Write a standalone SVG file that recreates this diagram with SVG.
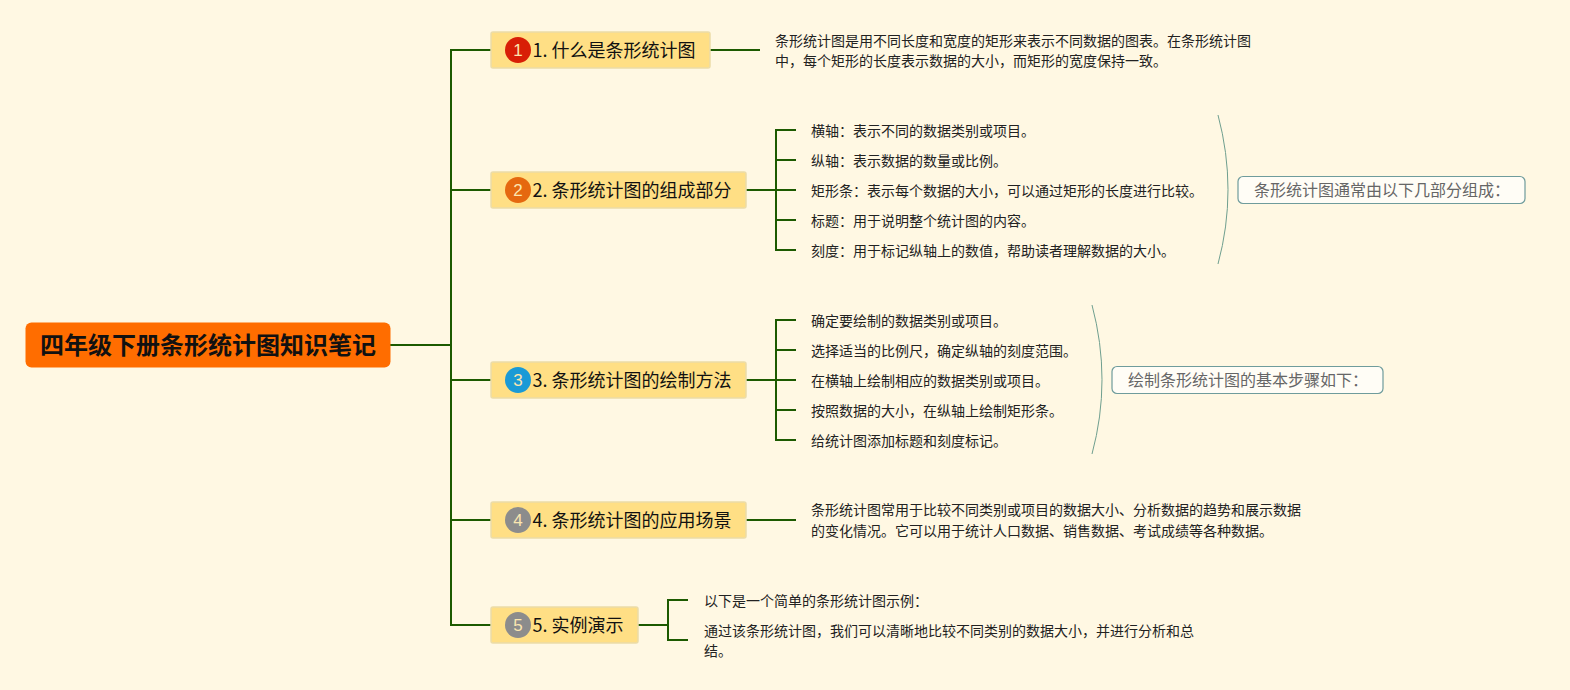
<svg xmlns="http://www.w3.org/2000/svg" width="1570" height="690" viewBox="0 0 1570 690">
<style>
text{font-family:"Noto Sans CJK SC","Liberation Sans",sans-serif;fill:#111}
.root{font-size:24px;font-weight:700}
.t{font-size:18px}
.d{font-size:14px;fill:#222}
.s{font-size:16px;fill:#666}
.b{fill:#ffdf85;stroke:#ecdca8;stroke-width:1.5}
.c{fill:#fffdf6;stroke:#6f9c9c;stroke-width:1.2}
.i{font-family:"Liberation Sans",sans-serif;font-size:17px;text-anchor:middle;fill:#fbe6b0}
.l{fill:none;stroke:#1c5a00;stroke-width:2}
.k{fill:none;stroke:#6f9f8f;stroke-width:1}
</style>
<rect width="1570" height="690" fill="#fff8e3"/>
<g id="connectors">
<path class="l" d="M390 345H451M491 50H451V625H491M451 190H491M451 380H491M451 520H491"/>
<path class="l" d="M710 50H760"/>
<path class="l" d="M746 190H796M796 130H776V250H796M776 160H796M776 220H796"/>
<path class="l" d="M746 380H796M796 320H776V440H796M776 350H796M776 410H796"/>
<path class="l" d="M746 520H796"/>
<path class="l" d="M638 625H668M688 600H668V640H688"/>
<path class="k" d="M1218 115Q1238 190 1218 264"/>
<path class="k" d="M1092 305Q1112 380 1092 454"/>
</g>
<g id="root"><rect x="25.500" y="322.500" width="365" height="45" rx="6" fill="#ff6d00"/><text class="root" x="40" y="354">四年级下册条形统计图知识笔记</text></g>
<g id="topic1"><rect class="b" x="491" y="32" width="219" height="36" rx="2"/><circle cx="518" cy="50" r="13" fill="#d81e06"/><text class="i" x="518" y="56">1</text><text class="t" x="532.500" y="57">1. 什么是条形统计图</text></g>
<g id="topic2"><rect class="b" x="491" y="172" width="255" height="36" rx="2"/><circle cx="518" cy="190" r="13" fill="#e5680f"/><text class="i" x="518" y="196">2</text><text class="t" x="532.500" y="197">2. 条形统计图的组成部分</text></g>
<g id="topic3"><rect class="b" x="491" y="362" width="255" height="36" rx="2"/><circle cx="518" cy="380" r="13" fill="#1a9ad6"/><text class="i" x="518" y="386">3</text><text class="t" x="532.500" y="387">3. 条形统计图的绘制方法</text></g>
<g id="topic4"><rect class="b" x="491" y="502" width="255" height="36" rx="2"/><circle cx="518" cy="520" r="13" fill="#8c8c8c"/><text class="i" x="518" y="526">4</text><text class="t" x="532.500" y="527">4. 条形统计图的应用场景</text></g>
<g id="topic5"><rect class="b" x="491" y="607" width="147" height="36" rx="2"/><circle cx="518" cy="625" r="13" fill="#8c8c8c"/><text class="i" x="518" y="631">5</text><text class="t" x="532.500" y="632">5. 实例演示</text></g>
<g id="detail1"><text class="d" x="775" y="46">条形统计图是用不同长度和宽度的矩形来表示不同数据的图表。在条形统计图</text><text class="d" x="775" y="66">中，每个矩形的长度表示数据的大小，而矩形的宽度保持一致。</text></g>
<g id="detail2">
<text class="d" x="811" y="136">横轴：表示不同的数据类别或项目。</text>
<text class="d" x="811" y="166">纵轴：表示数据的数量或比例。</text>
<text class="d" x="811" y="196">矩形条：表示每个数据的大小，可以通过矩形的长度进行比较。</text>
<text class="d" x="811" y="226">标题：用于说明整个统计图的内容。</text>
<text class="d" x="811" y="256">刻度：用于标记纵轴上的数值，帮助读者理解数据的大小。</text>
</g>
<g id="summary2"><rect class="c" x="1238" y="176.500" width="287" height="27" rx="5"/><text class="s" x="1254" y="196">条形统计图通常由以下几部分组成：</text></g>
<g id="detail3">
<text class="d" x="811" y="326">确定要绘制的数据类别或项目。</text>
<text class="d" x="811" y="356">选择适当的比例尺，确定纵轴的刻度范围。</text>
<text class="d" x="811" y="386">在横轴上绘制相应的数据类别或项目。</text>
<text class="d" x="811" y="416">按照数据的大小，在纵轴上绘制矩形条。</text>
<text class="d" x="811" y="446">给统计图添加标题和刻度标记。</text>
</g>
<g id="summary3"><rect class="c" x="1112" y="366.500" width="271" height="27" rx="5"/><text class="s" x="1128" y="386">绘制条形统计图的基本步骤如下：</text></g>
<g id="detail4"><text class="d" x="811" y="515">条形统计图常用于比较不同类别或项目的数据大小、分析数据的趋势和展示数据</text><text class="d" x="811" y="536">的变化情况。它可以用于统计人口数据、销售数据、考试成绩等各种数据。</text></g>
<g id="detail5"><text class="d" x="704" y="606">以下是一个简单的条形统计图示例：</text><text class="d" x="704" y="636">通过该条形统计图，我们可以清晰地比较不同类别的数据大小，并进行分析和总</text><text class="d" x="704" y="656">结。</text></g>
</svg>
